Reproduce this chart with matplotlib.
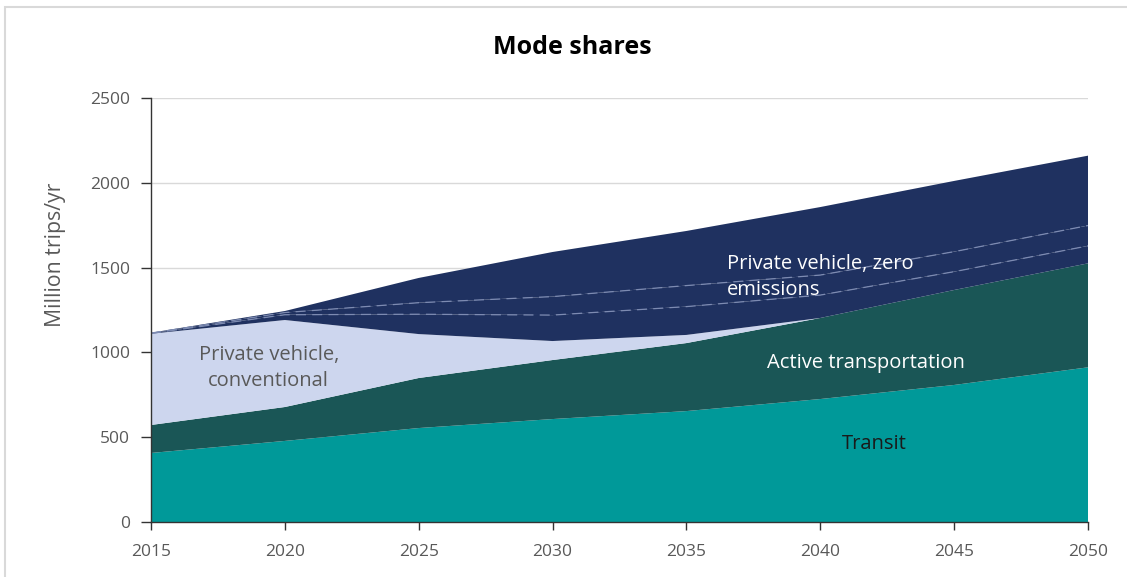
import numpy as np
import matplotlib.pyplot as plt
from matplotlib.patches import Rectangle

plt.rcParams['font.family'] = ['Open Sans', 'DejaVu Sans']

years = [2015, 2020, 2025, 2030, 2035, 2040, 2045, 2050]
transit = [407, 478, 554, 607, 654, 725, 808, 912]
active = [165, 200, 295, 348, 401, 478, 560, 613]
conventional = [538, 513, 259, 112, 48, 0, 0, 0]
# zero-emission private vehicles, split in three parts (bottom to top)
zev_1 = [2, 31, 117, 153, 167, 135, 108, 103]
zev_2 = [2, 13, 68, 109, 124, 118, 118, 120]
zev_3 = [2, 9, 146, 263, 322, 401, 417, 412]

c_transit = '#009999'
c_active = '#1a5656'
c_conv = '#cdd6ee'
c_zev = '#1f3160'
grey = '#595959'

fig = plt.figure(figsize=(11.27, 5.77), dpi=100)
ax = fig.add_axes([151/1127, 1-522/577, (1088-151)/1127, (522-98)/577])

ax.stackplot(years, transit, active, conventional, zev_1, zev_2, zev_3,
             colors=[c_transit, c_active, c_conv, c_zev, c_zev, c_zev],
             linewidth=0, zorder=2)

# dashed boundaries between the zero-emission parts
base = np.array(transit) + np.array(active) + np.array(conventional)
lower = base + np.array(zev_1)
upper = lower + np.array(zev_2)
for line in (lower, upper):
    ax.plot(years, line, color='#7d8bb2', lw=0.9, dashes=(8, 5), zorder=3)

ax.set_xlim(2015, 2050)
ax.set_ylim(0, 2500)
ax.set_xticks(years)
ax.set_yticks(range(0, 2501, 500))
ax.grid(axis='y', color='#d9d9d9', lw=1, zorder=0)
ax.set_axisbelow(True)
for s in ['top', 'right']:
    ax.spines[s].set_visible(False)
for s in ['left', 'bottom']:
    ax.spines[s].set_color('#333333')
    ax.spines[s].set_linewidth(1.0)
    ax.spines[s].set_zorder(4)
ax.tick_params(axis='y', direction='out', length=7, width=1, colors='#333333',
               labelcolor=grey, labelsize=12.5, pad=8)
ax.tick_params(axis='x', direction='out', length=6, width=1, colors='#333333',
               labelcolor=grey, labelsize=12.5, pad=10)

fig.text(572/1127, 1-47/577, 'Mode shares', ha='center', va='center',
         fontsize=18, fontweight='bold', color='black')
fig.text(55/1127, 1-255/577, 'Million trips/yr', rotation=90, ha='center',
         va='center', fontsize=15.3, color=grey)

ax.text(2019.4, 908, 'Private vehicle,\nconventional', ha='center', va='center',
        fontsize=14.5, color=grey, linespacing=1.35, zorder=5)
ax.text(2036.5, 1445, 'Private vehicle, zero\nemissions', ha='left', va='center',
        fontsize=14.5, color='white', linespacing=1.35, zorder=5)
ax.text(2041.7, 937, 'Active transportation', ha='center', va='center',
        fontsize=14.5, color='white', zorder=5)
ax.text(2042.0, 460, 'Transit', ha='center', va='center',
        fontsize=14.5, color='#1a1a1a', zorder=5)

# light frame around the chart area
fig.add_artist(Rectangle((5/1127, -0.5), 1.5, 1.5 - 7/577,
                         transform=fig.transFigure, fill=False,
                         edgecolor='#d9d9d9', lw=1.5))

fig.savefig('out.png', dpi=100)
